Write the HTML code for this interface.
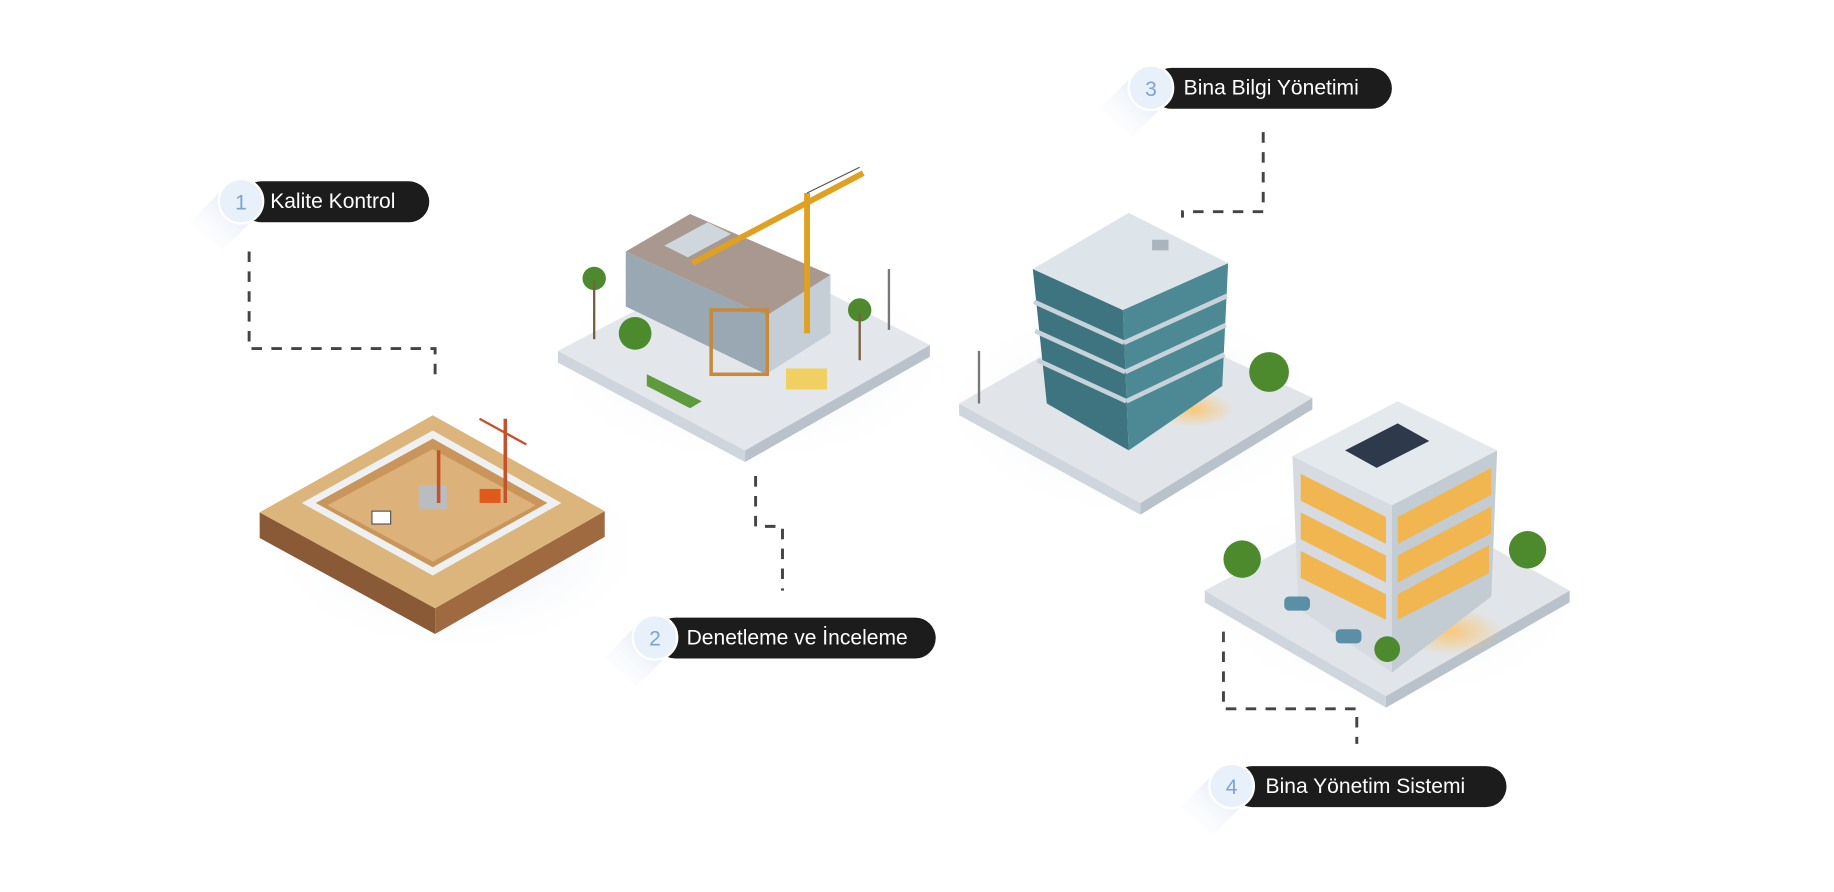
<!DOCTYPE html>
<html><head><meta charset="utf-8"><style>
html,body{margin:0;padding:0;background:#fff;}
svg{display:block}
text{font-family:"Liberation Sans",sans-serif}
</style></head><body>
<svg width="1834" height="892" viewBox="0 0 1568 762.6" xmlns="http://www.w3.org/2000/svg">
<defs>
<linearGradient id="sh" x1="1" y1="0" x2="0" y2="1"><stop offset="0" stop-color="#c9d8ee" stop-opacity=".9"/><stop offset="1" stop-color="#fff" stop-opacity="0"/></linearGradient>
<radialGradient id="gs" cx=".5" cy=".5" r=".5"><stop offset="0" stop-color="#c8d4ea" stop-opacity=".6"/><stop offset="1" stop-color="#fff" stop-opacity="0"/></radialGradient>
<radialGradient id="glow" cx=".5" cy=".5" r=".5"><stop offset="0" stop-color="#ffc060" stop-opacity=".8"/><stop offset="1" stop-color="#ffc060" stop-opacity="0"/></radialGradient>
</defs>

<!-- connectors -->
<g fill="none" stroke="#444" stroke-width="2.5" stroke-dasharray="9 8">
<polyline points="213,215 213,298 372,298 372,328"/>
<polyline points="646,407 646,450 669,450 669,505"/>
<polyline points="1080,113 1080,181 1011,181 1011,186"/>
<polyline points="1046,540 1046,606 1160,606 1160,636"/>
</g>

<!-- building 1: excavation -->
<ellipse cx="390" cy="470" rx="170" ry="90" fill="url(#gs)"/>
<polygon points="222,438 372,520 372,542 222,460" fill="#8a5a36"/>
<polygon points="372,520 517,437 517,459 372,542" fill="#a06a40"/>
<polygon points="222,438 370,355 517,437 372,520" fill="#dcb57c"/>
<polygon points="258,430 370,368 480,430 370,492" fill="#eef0f2"/>
<polygon points="270,430 370,375 468,430 370,485" fill="#c9955a"/>
<polygon points="280,432 370,384 458,432 370,480" fill="#dcb27a"/>
<rect x="358" y="415" width="24" height="20" fill="#b9bcc0"/>
<line x1="375" y1="430" x2="375" y2="385" stroke="#c4522a" stroke-width="3"/>
<line x1="432" y1="430" x2="432" y2="358" stroke="#c4522a" stroke-width="3"/>
<line x1="410" y1="358" x2="450" y2="380" stroke="#c4522a" stroke-width="2"/>
<rect x="410" y="418" width="18" height="12" fill="#e05a20"/>
<rect x="318" y="437" width="16" height="11" fill="#fff" stroke="#555"/>

<!-- building 2 -->
<ellipse cx="640" cy="310" rx="180" ry="90" fill="url(#gs)"/>
<polygon points="477,300 637,385 637,395 477,310" fill="#cfd5dc"/>
<polygon points="637,385 795,295 795,305 637,395" fill="#b9c1ca"/>
<polygon points="477,300 640,215 795,295 637,385" fill="#e3e7eb"/>
<polygon points="553,320 600,343 590,349 553,330" fill="#5f9a3c"/>
<polygon points="535,215 655,270 655,320 535,262" fill="#9aa8b3"/>
<polygon points="655,270 710,235 710,285 655,320" fill="#c5ced6"/>
<polygon points="535,215 590,183 710,235 655,270" fill="#a89890"/>
<polygon points="568,210 605,190 625,200 588,220" fill="#cfd6dc"/>
<rect x="608" y="265" width="48" height="55" fill="none" stroke="#c88a3a" stroke-width="3"/>
<line x1="690" y1="285" x2="690" y2="165" stroke="#e0a020" stroke-width="5"/>
<line x1="592" y1="225" x2="738" y2="148" stroke="#e0a020" stroke-width="5"/>
<line x1="690" y1="165" x2="735" y2="143" stroke="#555" stroke-width="1"/>
<rect x="672" y="315" width="35" height="18" fill="#f0d060"/>
<g fill="#4d8a2e"><circle cx="543" cy="285" r="14"/><circle cx="508" cy="238" r="10"/><circle cx="735" cy="265" r="10"/></g>
<line x1="508" y1="240" x2="508" y2="290" stroke="#7a6040" stroke-width="2"/>
<line x1="735" y1="268" x2="735" y2="308" stroke="#7a6040" stroke-width="2"/>
<line x1="760" y1="230" x2="760" y2="282" stroke="#777" stroke-width="2"/>

<!-- building 3 -->
<ellipse cx="970" cy="350" rx="170" ry="95" fill="url(#gs)"/>
<polygon points="820,345 975,430 975,440 820,355" fill="#cfd5dc"/>
<polygon points="975,430 1122,340 1122,350 975,440" fill="#b9c1ca"/>
<polygon points="820,345 960,265 1122,340 975,430" fill="#e1e5e9"/>
<ellipse cx="1020" cy="350" rx="35" ry="15" fill="url(#glow)"/>
<polygon points="883,230 960,265 965,385 895,345" fill="#3d7480"/>
<polygon points="960,265 1050,225 1045,330 965,385" fill="#4d8994"/>
<g stroke="#c8d2da" stroke-width="4">
<line x1="884" y1="258" x2="961" y2="293"/><line x1="885" y1="283" x2="962" y2="318"/><line x1="887" y1="308" x2="963" y2="343"/>
<line x1="961" y1="293" x2="1049" y2="253"/><line x1="962" y1="318" x2="1048" y2="278"/><line x1="963" y1="343" x2="1047" y2="303"/>
</g>
<polygon points="883,230 965,182 1050,225 960,265" fill="#dde4ea"/>
<rect x="985" y="205" width="14" height="9" fill="#aab4bc"/>
<circle cx="1085" cy="318" r="17" fill="#4d8a2e"/>
<line x1="837" y1="300" x2="837" y2="345" stroke="#777" stroke-width="2"/>

<!-- building 4 -->
<ellipse cx="1190" cy="510" rx="170" ry="95" fill="url(#gs)"/>
<polygon points="1030,505 1185,595 1185,605 1030,515" fill="#cfd5dc"/>
<polygon points="1185,595 1342,505 1342,515 1185,605" fill="#b9c1ca"/>
<polygon points="1030,505 1190,420 1342,505 1185,595" fill="#e1e5e9"/>
<ellipse cx="1240" cy="540" rx="45" ry="20" fill="url(#glow)"/>
<polygon points="1105,390 1190,432 1190,575 1110,520" fill="#d5dbe1"/>
<polygon points="1190,432 1280,385 1275,510 1190,575" fill="#c3cbd3"/>
<g fill="#f2b650">
<polygon points="1112,405 1185,442 1185,465 1112,428"/><polygon points="1112,438 1185,475 1185,498 1112,461"/><polygon points="1112,471 1185,508 1185,530 1112,494"/>
<polygon points="1195,442 1275,400 1275,423 1195,465"/><polygon points="1195,475 1275,433 1275,456 1195,498"/><polygon points="1195,508 1273,466 1273,490 1195,530"/>
</g>
<polygon points="1105,390 1195,343 1280,385 1190,432" fill="#e4e9ee"/>
<polygon points="1150,385 1195,362 1222,377 1177,400" fill="#2e3a4c"/>
<g fill="#4d8a2e"><circle cx="1062" cy="478" r="16"/><circle cx="1306" cy="470" r="16"/><circle cx="1186" cy="555" r="11"/></g>
<rect x="1098" y="510" width="22" height="12" rx="4" fill="#5b8fa8"/>
<rect x="1142" y="538" width="22" height="12" rx="4" fill="#5b8fa8"/>

<!-- pills -->
<g>
<polygon points="192,160 220,184 190,214 162,190" fill="url(#sh)"/>
<rect x="206" y="155" width="161" height="35" rx="17.5" fill="#1c1c1c"/>
<circle cx="206" cy="172" r="19" fill="#e8f0fa" stroke="#fff" stroke-width="2"/>
<text x="206" y="179" font-size="18" fill="#7ba3d6" text-anchor="middle">1</text>
<text x="231" y="178" font-size="18" fill="#fff">Kalite Kontrol</text>

<polygon points="546,533 574,557 544,587 516,563" fill="url(#sh)"/>
<rect x="560" y="528" width="240" height="35" rx="17.5" fill="#1c1c1c"/>
<circle cx="560" cy="545" r="19" fill="#e8f0fa" stroke="#fff" stroke-width="2"/>
<text x="560" y="552" font-size="18" fill="#7ba3d6" text-anchor="middle">2</text>
<text x="587" y="551" font-size="18" fill="#fff">Denetleme ve İnceleme</text>

<polygon points="970,63 998,87 968,117 940,93" fill="url(#sh)"/>
<rect x="984" y="58" width="206" height="35" rx="17.5" fill="#1c1c1c"/>
<circle cx="984" cy="75" r="19" fill="#e8f0fa" stroke="#fff" stroke-width="2"/>
<text x="984" y="82" font-size="18" fill="#7ba3d6" text-anchor="middle">3</text>
<text x="1012" y="81" font-size="18" fill="#fff">Bina Bilgi Yönetimi</text>

<polygon points="1039,660 1067,684 1037,714 1009,690" fill="url(#sh)"/>
<rect x="1053" y="655" width="235" height="35" rx="17.5" fill="#1c1c1c"/>
<circle cx="1053" cy="672" r="19" fill="#e8f0fa" stroke="#fff" stroke-width="2"/>
<text x="1053" y="679" font-size="18" fill="#7ba3d6" text-anchor="middle">4</text>
<text x="1082" y="678" font-size="18" fill="#fff">Bina Yönetim Sistemi</text>
</g>
</svg>
</body></html>
